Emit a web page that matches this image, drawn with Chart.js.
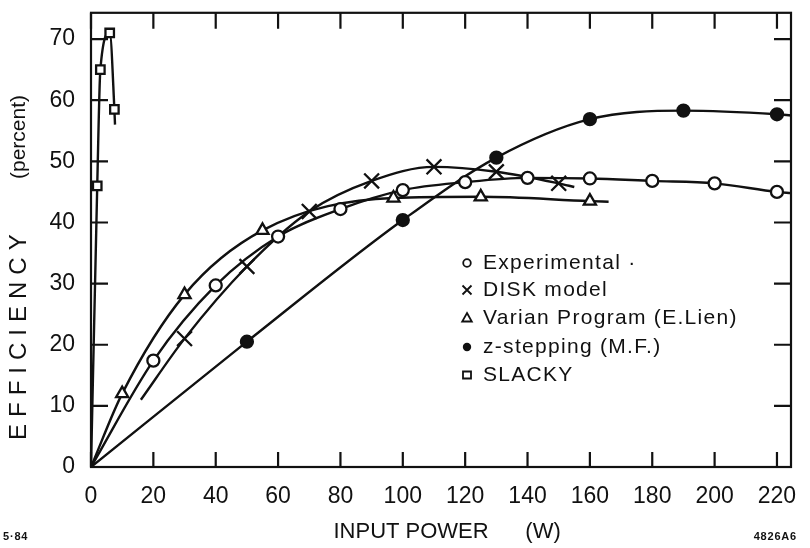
<!DOCTYPE html>
<html><head><meta charset="utf-8">
<script src="https://cdn.jsdelivr.net/npm/chart.js@4.4.0/dist/chart.umd.min.js"></script>
<style>html,body{margin:0;padding:0;background:#fff}#wrap{width:810px;height:548px}</style>
</head><body><div id="wrap"><canvas id="c" width="810" height="548"></canvas></div>
<script>
// ---- tick values ----
const xTickValues = [0, 20, 40, 60, 80, 100, 120, 140, 160, 180, 200, 220];
const yTickValues = [0, 10, 20, 30, 40, 50, 60, 70];

// ---- Experimental (open circles) ----
const expPower = [20, 40, 60, 80, 100, 120, 140, 160, 180, 200, 220];
const expEff   = [17.4, 29.7, 37.7, 42.2, 45.3, 46.6, 47.3, 47.2, 46.8, 46.4, 45.0];
const expCurvePower = [0, 20, 40, 60, 80, 100, 120, 140, 160, 180, 200, 220, 224.5];
const expCurveEff   = [0, 17.4, 29.7, 37.7, 42.2, 45.3, 46.6, 47.3, 47.2, 46.8, 46.4, 45.0, 44.8];

// ---- DISK model (crosses) ----
const diskPower = [30, 50, 70, 90, 110, 130, 150];
const diskEff   = [21.0, 32.8, 41.8, 46.8, 49.1, 48.3, 46.4];
const diskCurvePower = [16, 30, 50, 70, 90, 110, 130, 150, 155];
const diskCurveEff   = [11, 21.0, 32.8, 41.8, 46.8, 49.1, 48.3, 46.4, 45.8];

// ---- Varian Program (E. Lien) (triangles) ----
const varPower = [10, 30, 55, 97, 125, 160];
const varEff   = [12.0, 28.2, 38.7, 44.0, 44.2, 43.5];
const varCurvePower = [0, 10, 30, 55, 97, 125, 160, 166];
const varCurveEff   = [0, 12.0, 28.2, 38.7, 44.0, 44.2, 43.5, 43.4];

// ---- z-stepping (M.F.) (filled circles) ----
const zPower = [50, 100, 130, 160, 190, 220];
const zEff   = [20.5, 40.4, 50.6, 56.9, 58.3, 57.7];
const zCurvePower = [0, 50, 100, 130, 160, 190, 220, 224.5];
const zCurveEff   = [0, 20.5, 40.4, 50.6, 56.9, 58.3, 57.7, 57.5];

// ---- SLACKY (squares) ----
const slackyPower = [2, 3, 6, 7.5];
const slackyEff   = [46, 65, 71, 58.5];
const slackyCurvePower = [0, 2, 3, 6, 7.5, 7.7];
const slackyCurveEff   = [0, 46, 65, 71, 58.5, 56];

const legendLabels = ['Experimental \u00b7', 'DISK model', 'Varian Program (E.Lien)', 'z-stepping (M.F.)', 'SLACKY'];
const yTitleMain = 'EFFICIENCY';
const yTitleUnit = '(percent)';

const pts = (xs, ys) => xs.map((x, i) => ({x: x, y: ys[i]}));
const FONT = "'Liberation Sans', Arial, sans-serif";
const INK = '#111';

function curve(xs, ys) {
  return {data: pts(xs, ys), showLine: true, borderColor: INK, borderWidth: 2.4,
    pointRadius: 0, cubicInterpolationMode: 'monotone', fill: false, order: 2};
}
function marks(xs, ys, style, r, fillCol) {
  return {data: pts(xs, ys), showLine: false, pointStyle: style, pointRadius: r,
    pointBackgroundColor: fillCol, pointBorderColor: INK, pointBorderWidth: 2.3, order: 1};
}

const datasets = [
  curve(expCurvePower, expCurveEff),
  curve(diskCurvePower, diskCurveEff),
  curve(varCurvePower, varCurveEff),
  curve(zCurvePower, zCurveEff),
  curve(slackyCurvePower, slackyCurveEff),
  marks(expPower, expEff, 'circle', 6, '#fff'),
  marks(diskPower, diskEff, 'crossRot', 10.5, INK),
  marks(varPower, varEff, 'triangle', 7, '#fff'),
  marks(zPower, zEff, 'circle', 6, INK),
  marks(slackyPower, slackyEff, 'rect', 6, '#fff')
];

function drawMarker(ctx, kind, x, y) {
  ctx.save();
  ctx.strokeStyle = INK; ctx.fillStyle = INK; ctx.lineWidth = 1.8;
  ctx.beginPath();
  if (kind === 0) { ctx.arc(x, y, 3.8, 0, Math.PI * 2); ctx.stroke(); }
  else if (kind === 1) { const s = 4.5; ctx.moveTo(x - s, y - s); ctx.lineTo(x + s, y + s); ctx.moveTo(x + s, y - s); ctx.lineTo(x - s, y + s); ctx.stroke(); }
  else if (kind === 2) { ctx.moveTo(x, y - 5); ctx.lineTo(x + 4.8, y + 3.5); ctx.lineTo(x - 4.8, y + 3.5); ctx.closePath(); ctx.stroke(); }
  else if (kind === 3) { ctx.arc(x, y, 4.2, 0, Math.PI * 2); ctx.fill(); }
  else { ctx.rect(x - 4, y - 3.5, 8, 7); ctx.stroke(); }
  ctx.restore();
}

const framePlugin = {
  id: 'frame',
  afterDraw(chart) {
    const {ctx, chartArea: a, scales} = chart;
    ctx.save();
    ctx.strokeStyle = INK; ctx.lineWidth = 2.2;
    ctx.strokeRect(a.left, a.top, a.right - a.left, a.bottom - a.top);
    ctx.beginPath();
    xTickValues.forEach(v => {
      const px = scales.x.getPixelForValue(v);
      ctx.moveTo(px, a.bottom); ctx.lineTo(px, a.bottom - 15);
      ctx.moveTo(px, a.top); ctx.lineTo(px, a.top + 16);
    });
    yTickValues.forEach(v => {
      const py = scales.y.getPixelForValue(v);
      ctx.moveTo(a.left, py); ctx.lineTo(a.left + 17, py);
      ctx.moveTo(a.right, py); ctx.lineTo(a.right - 17, py);
    });
    ctx.stroke();
    // legend
    ctx.fillStyle = INK; ctx.textBaseline = 'middle'; ctx.textAlign = 'left';
    ctx.font = '21px ' + FONT;
    ctx.letterSpacing = '1.3px';
    const rows = [263, 290, 318, 347, 375];
    legendLabels.forEach((t, i) => { drawMarker(ctx, i, 467, rows[i]); ctx.fillText(t, 483, rows[i]); });
    // y axis title (rotated)
    ctx.save();
    ctx.translate(19, 0);
    ctx.rotate(-Math.PI / 2);
    ctx.font = '21px ' + FONT;
    ctx.letterSpacing = '0px';
    ctx.textAlign = 'center';
    ctx.fillText(yTitleUnit, -137, 0);
    ctx.textAlign = 'left';
    ctx.font = '24px ' + FONT;
    ctx.letterSpacing = '7px';
    ctx.fillText(yTitleMain, -440, 0);
    ctx.restore();
    // figure codes
    ctx.letterSpacing = '0.8px';
    ctx.font = 'bold 11px ' + FONT;
    ctx.textAlign = 'left';
    ctx.fillText('5\u00b784', 3, 537);
    ctx.textAlign = 'right';
    ctx.fillText('4826A6', 797, 537);
    ctx.restore();
  }
};

new Chart(document.getElementById('c'), {
  type: 'scatter',
  data: {datasets},
  options: {
    responsive: false, animation: false,
    layout: {padding: {top: 10, right: 19, left: 0, bottom: 0}},
    plugins: {legend: {display: false}, tooltip: {enabled: false}},
    scales: {
      x: {
        type: 'linear', min: 0, max: 224.5,
        afterBuildTicks: s => { s.ticks = xTickValues.map(v => ({value: v})); },
        afterFit: s => { s.height = 81; s.paddingLeft = 0; s.paddingRight = 0; },
        grid: {display: false, drawTicks: false}, border: {display: false},
        ticks: {font: {family: FONT, size: 23}, color: INK, padding: 16, maxRotation: 0, autoSkip: false},
        title: {display: true, text: '  INPUT POWER      (W)', font: {family: FONT, size: 22}, color: INK, padding: {top: 0, bottom: 3}}
      },
      y: {
        type: 'linear', min: 0, max: 74.3,
        afterBuildTicks: s => { s.ticks = yTickValues.map(v => ({value: v})); },
        afterFit: s => { s.width = 91; s.paddingTop = 0; s.paddingBottom = 0; },
        grid: {display: false, drawTicks: false}, border: {display: false},
        ticks: {font: {family: FONT, size: 23}, color: INK, padding: 16, autoSkip: false},
        title: {display: false}
      }
    }
  },
  plugins: [framePlugin]
});
</script></body></html>
